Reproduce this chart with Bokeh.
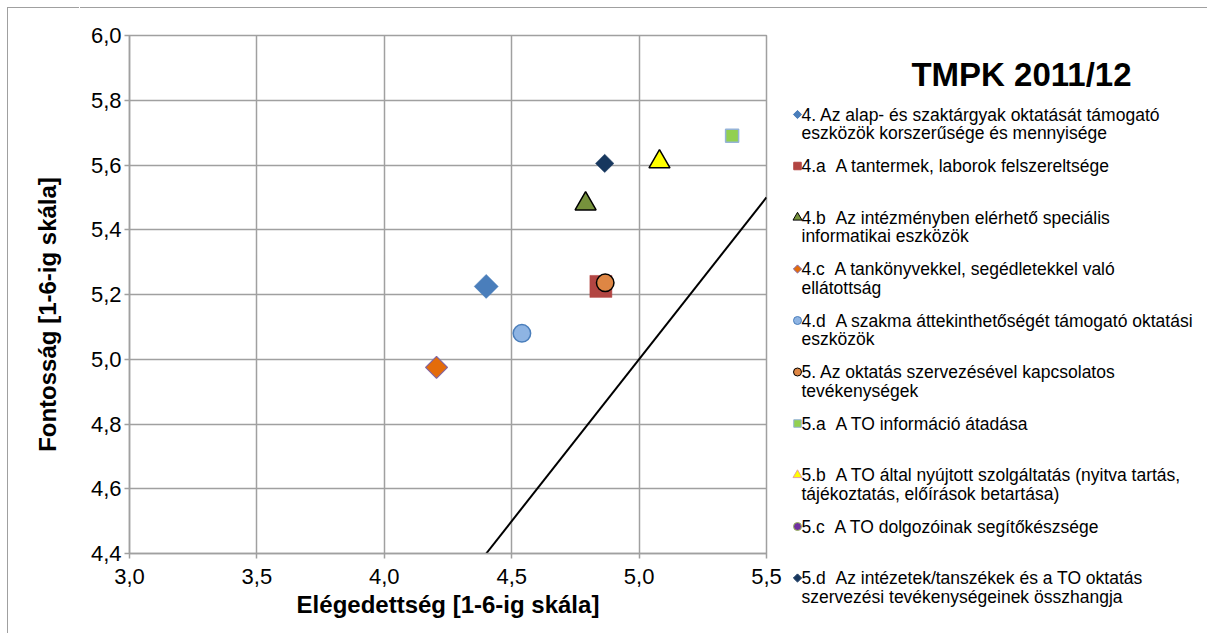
import math
from bokeh.plotting import figure
from bokeh.models import Range1d, FixedTicker, ColumnDataSource
from bokeh.embed import file_html
from bokeh.resources import INLINE
from bokeh.core.properties import value

# ---------------- data ----------------
series_labels = [
    "4. Az alap- és szaktárgyak oktatását támogató\neszközök korszerűsége és mennyisége",
    "4.a \u00a0A tantermek, laborok felszereltsége",
    "4.b \u00a0Az intézményben elérhető speciális\ninformatikai eszközök",
    "4.c \u00a0A tankönyvekkel, segédletekkel való\nellátottság",
    "4.d \u00a0A szakma áttekinthetőségét támogató oktatási\neszközök",
    "5. Az oktatás szervezésével kapcsolatos\ntevékenységek",
    "5.a \u00a0A TO információ átadása",
    "5.b \u00a0A TO által nyújtott szolgáltatás (nyitva tartás,\ntájékoztatás, előírások betartása)",
    "5.c \u00a0A TO dolgozóinak segítőkészsége",
    "5.d \u00a0Az intézetek/tanszékek és a TO oktatás\nszervezési tevékenységeinek összhangja",
]
satisfaction = [4.40, 4.85, 4.79, 4.205, 4.54, 4.867, 5.365, 5.08, float("nan"), 4.865]
importance = [5.225, 5.225, 5.48, 4.975, 5.08, 5.236, 5.69, 5.61, float("nan"), 5.605]

x_ticks = [3.0, 3.5, 4.0, 4.5, 5.0, 5.5]
x_tick_labels = ["3,0", "3,5", "4,0", "4,5", "5,0", "5,5"]
y_ticks = [4.4, 4.6, 4.8, 5.0, 5.2, 5.4, 5.6, 5.8, 6.0]
y_tick_labels = ["4,4", "4,6", "4,8", "5,0", "5,2", "5,4", "5,6", "5,8", "6,0"]

ref_line_x = [4.4, 5.5]
ref_line_y = [4.4, 5.5]

chart_title = "TMPK 2011/12"
x_title = "Elégedettség [1-6-ig skála]"
y_title = "Fontosság [1-6-ig skála]"

# ---------------- styles ----------------
D = math.pi / 4
styles = [
    dict(marker="square", angle=D, size=17, fill="#4A7EBB", line="#4A7EBB", lw=0.5, lsize=5.8),
    dict(marker="square", angle=0, size=22, fill="#B24542", line="#B24542", lw=0.5, lsize=7.5),
    dict(marker="triangle", angle=0, size=21, fill="#76923C", line="#000000", lw=1.5, lsize=9),
    dict(marker="square", angle=D, size=15.5, fill="#E46C0A", line="#8064A2", lw=1.2, lsize=5.8),
    dict(marker="circle", angle=0, size=17.5, fill="#8EB4E3", line="#4A7EBB", lw=1.5, lsize=8),
    dict(marker="circle", angle=0, size=17.5, fill="#DE8644", line="#000000", lw=1.5, lsize=8),
    dict(marker="square", angle=0, size=13, fill="#92D050", line="#95B3D7", lw=1.5, lsize=7.5),
    dict(marker="triangle", angle=0, size=21, fill="#FFFF00", line="#000000", lw=1.5, lsize=9),
    dict(marker="circle", angle=0, size=8, fill="#7030A0", line="#9BBB59", lw=1.5, lsize=8),
    dict(marker="square", angle=D, size=13, fill="#17375E", line="#17375E", lw=0.5, lsize=5.8),
]

FONT = "Liberation Sans"
GRID = "#a0a0a0"
BORDER = "#a0a0a0"
H = 626


def blank(width):
    f = figure(width=width, height=H, x_range=Range1d(0, width), y_range=Range1d(H, 0),
               output_backend="svg", toolbar_location=None,
               x_axis_type=None, y_axis_type=None,
               min_border=0, min_border_left=0, min_border_right=0,
               min_border_top=0, min_border_bottom=0,
               background_fill_color="white", border_fill_color="white")
    f.outline_line_color = None
    f.xgrid.visible = False
    f.ygrid.visible = False
    return f


# ---------------- y-axis title panel ----------------
TW = 72
t = blank(TW)
t.text(x=[39], y=[306], text=[y_title], angle=math.pi / 2,
       text_font=value(FONT), text_font_size=value("24px"), text_font_style="bold",
       text_color="#000000", text_align="center", text_baseline="middle")
t.styles = {"position": "absolute", "left": "8px", "top": "8px",
            "box-shadow": f"-1px -1px 0 0 {BORDER}"}

# ---------------- plot figure ----------------
PW = 707
p = figure(width=PW, height=H,
           x_range=Range1d(3.0, 5.5), y_range=Range1d(4.4, 6.0),
           output_backend="svg", toolbar_location=None,
           min_border_left=49, min_border_right=21,
           min_border_top=27, min_border_bottom=81,
           background_fill_color="white", border_fill_color="white")
p.outline_line_color = GRID
p.outline_line_width = 1.5

for ax in (p.xaxis[0], p.yaxis[0]):
    ax.axis_line_color = GRID
    ax.axis_line_width = 1.5
    ax.major_tick_line_color = GRID
    ax.major_tick_line_width = 1.5
    ax.major_tick_in = 0
    ax.major_tick_out = 5
    ax.minor_tick_line_color = None
    ax.major_label_text_font = FONT
    ax.major_label_text_font_size = "22px"
    ax.major_label_text_color = "#000000"
    ax.axis_label_text_font = FONT
    ax.axis_label_text_font_size = "24px"
    ax.axis_label_text_font_style = "bold"
    ax.axis_label_text_color = "#000000"

p.xaxis.ticker = FixedTicker(ticks=x_ticks)
p.xaxis.major_label_overrides = dict(zip(x_ticks, x_tick_labels))
p.xaxis.axis_label = x_title
p.xaxis.major_label_standoff = 10
p.xaxis.axis_label_standoff = 4

p.yaxis.ticker = FixedTicker(ticks=y_ticks)
p.yaxis.major_label_overrides = dict(zip(y_ticks, y_tick_labels))
p.yaxis.major_label_standoff = 3

p.xgrid.ticker = FixedTicker(ticks=x_ticks)
p.ygrid.ticker = FixedTicker(ticks=y_ticks)
for g in (p.xgrid[0], p.ygrid[0]):
    g.grid_line_color = GRID
    g.grid_line_width = 1.5

p.line(ref_line_x, ref_line_y, line_color="#000000", line_width=2)

pts = ColumnDataSource(dict(
    x=satisfaction, y=importance,
    marker=[s["marker"] for s in styles],
    angle=[s["angle"] for s in styles],
    size=[s["size"] for s in styles],
    fill=[s["fill"] for s in styles],
    line=[s["line"] for s in styles],
    lw=[s["lw"] for s in styles],
))
p.scatter(x="x", y="y", marker="marker", angle="angle", size="size",
          fill_color="fill", line_color="line", line_width="lw", source=pts)
p.styles = {"position": "absolute", "left": f"{8 + TW}px", "top": "8px",
            "box-shadow": f"0 -1px 0 0 {BORDER}"}

# ---------------- legend / title panel ----------------
LW = 420
q = blank(LW)

entry_y0 = 106
entry_step = 51.5
line_step = 18.8
mx = 10
tx = 14

leg = ColumnDataSource(dict(
    x=[mx] * len(styles),
    y=[entry_y0 + i * entry_step for i in range(len(styles))],
    marker=[s["marker"] for s in styles],
    angle=[s["angle"] for s in styles],
    size=[s["lsize"] for s in styles],
    fill=[s["fill"] for s in styles],
    line=[s["line"] if s["marker"] != "triangle" else ("#000000" if i == 2 else "#E6A0A0") for i, s in enumerate(styles)],
))
q.scatter(x="x", y="y", marker="marker", angle="angle", size="size",
          fill_color="fill", line_color="line", line_width=1, source=leg)

tx_list, ty_list, tt_list = [], [], []
for i, lab in enumerate(series_labels):
    for j, part in enumerate(lab.split("\n")):
        tx_list.append(tx)
        ty_list.append(entry_y0 + i * entry_step + j * line_step)
        tt_list.append(part)
q.text(x="x", y="y", text="text", source=ColumnDataSource(dict(x=tx_list, y=ty_list, text=tt_list)),
       text_font=value(FONT), text_font_size=value("17.5px"), text_color="#000000",
       text_align="left", text_baseline="middle")

q.text(x=[234], y=[66], text=[chart_title], text_font=value(FONT), text_font_size=value("33px"),
       text_font_style="bold", text_color="#000000", text_align="center", text_baseline="alphabetic")
q.styles = {"position": "absolute", "left": f"{8 + TW + PW}px", "top": "8px",
            "box-shadow": f"0 -1px 0 0 {BORDER}"}

open("out.html", "w").write(file_html([t, p, q], INLINE))
